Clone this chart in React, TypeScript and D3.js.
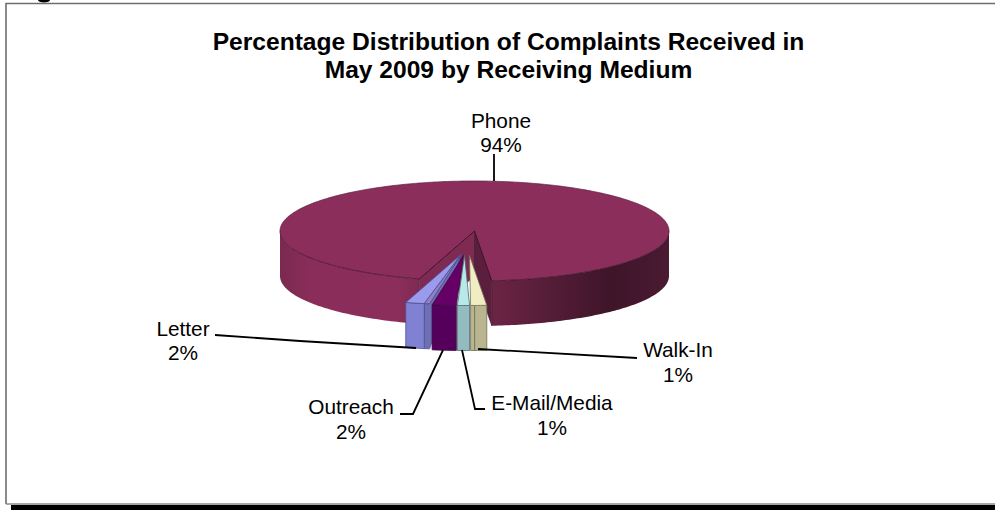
import React from "react";
import * as d3 from "d3";

// Complaints received by medium, May 2009 (percent)
const categories = ["Phone", "Walk-In", "E-Mail/Media", "Outreach", "Letter"];
const shares = [94, 1, 1, 2, 2];
const titleLines = [
  "Percentage Distribution of Complaints Received in",
  "May 2009 by Receiving Medium",
];

const WIDTH = 995;
const HEIGHT = 510;
const FONT = "'Liberation Sans', Arial, sans-serif";
const deg = Math.PI / 180;

// Tilted-disc projection of the pie
const CENTER_X = 474.5;
const CENTER_Y = 231;
const RX = 194.5;
const RY = 50;
const DEPTH = 45;

type Pt = [number, number];

const project = (cx: number, cy: number, a: number, rx = RX): Pt => [
  cx + rx * Math.sin(a),
  cy - RY * Math.cos(a),
];
const arcPoints = (cx: number, cy: number, a0: number, a1: number): Pt[] => {
  const n = Math.max(2, Math.ceil(Math.abs(a1 - a0) / (1 * deg)));
  return d3.range(n + 1).map((i) => project(cx, cy, a0 + ((a1 - a0) * i) / n));
};
const line = d3.line<Pt>();
const closed = (pts: Pt[]) => line(pts) + "Z";
const drop = (pts: Pt[], d = DEPTH): Pt[] => pts.map(([x, y]) => [x, y + d] as Pt);

const slices = d3
  .pie<number>()
  .sort(null)
  .startAngle(196.5 * deg)
  .endAngle((196.5 + 360) * deg)(shares);

// Appearance of the pulled-out slices, by category
const wedgeStyle: Record<string, any> = {
  "Walk-In": { apexX: 469.5, apexY: 255.5, top: "#f1edc2", front: "#b9b68f", wall: "#a3a07c", edge: "#6f6e58", bevel: 0, leftWall: 4 },
  "E-Mail/Media": { apexX: 464.5, apexY: 255.5, top: "#b8e9e8", front: "#93bcc1", wall: "#7fa6ab", edge: "#4f6a70", bevel: 0, leftWall: 0 },
  Outreach: { apexX: 463.5, apexY: 255.5, top: "#660066", front: "#55005b", wall: "#4a0050", edge: "#3c0a44", bevel: 0, leftWall: 0 },
  Letter: { apexX: 461, apexY: 254.5, top: "#9b9bee", front: "#8081d2", wall: "#6d70b4", edge: "#4d5090", bevel: 0.22, leftWall: 0 },
};

// Callout placement: text centre, two baselines and the leader's path
const calloutLayout: Record<string, { x: number; y1: number; y2: number; leader: Pt[] }> = {
  Phone: { x: 501, y1: 128, y2: 152, leader: [[494, 154], [494, 181]] },
  Letter: { x: 183, y1: 336, y2: 360, leader: [[215, 335], [300, 341], [416, 348]] },
  Outreach: { x: 351, y1: 414, y2: 439, leader: [[400, 414], [413, 414], [443, 350]] },
  "E-Mail/Media": { x: 552, y1: 410, y2: 435, leader: [[485, 409], [475, 409], [462, 350]] },
  "Walk-In": { x: 678, y1: 357, y2: 382, leader: [[637, 358], [478, 349]] },
};

function Phone({ a0, a1 }: { a0: number; a1: number }) {
  // a0 is the slice's start (left of the gap), a1 its end (right of the gap)
  const topRim = arcPoints(CENTER_X, CENTER_Y, a0, a1);
  const apex: Pt = [CENTER_X, CENTER_Y];
  const leftSide = arcPoints(CENTER_X, CENTER_Y, a0, 270 * deg);
  const rightSide = arcPoints(CENTER_X, CENTER_Y, 90 * deg + 2 * Math.PI, a1);
  const leftEnd = topRim[0];
  const rightEnd = topRim[topRim.length - 1];
  return (
    <g>
      <path d={closed([...leftSide, ...drop(leftSide).reverse()])} fill="url(#sideShade)" />
      <path d={closed([...rightSide, ...drop(rightSide).reverse()])} fill="url(#sideShade)" />
      <path d={closed([apex, leftEnd, ...drop([leftEnd, apex])])} fill="#7f2a53" stroke="#5a1c3c" strokeWidth={0.6} />
      <path d={closed([apex, rightEnd, ...drop([rightEnd, apex])])} fill="#5b1f3d" stroke="#3d1428" strokeWidth={0.6} />
      <path d={closed([apex, ...topRim])} fill="#8c2e5c" />
      <path d={line(arcPoints(CENTER_X, CENTER_Y, 90 * deg + 2 * Math.PI, a1))!} fill="none" stroke="#3a1226" strokeWidth={0.8} />
      <path d={line(arcPoints(CENTER_X, CENTER_Y, a0, 270 * deg))!} fill="none" stroke="#3a1226" strokeWidth={0.8} />
      <path d={line(arcPoints(CENTER_X, CENTER_Y, 270 * deg, 450 * deg))!} fill="none" stroke="#5c2040" strokeWidth={0.7} />
      <path d={line([leftEnd, apex, rightEnd])!} fill="none" stroke="#3a1226" strokeWidth={1} />
    </g>
  );
}

function Wedge({ name, a0, a1 }: { name: string; a0: number; a1: number }) {
  const s = wedgeStyle[name];
  const apex: Pt = [s.apexX, s.apexY];
  // a0 is the slice's right end on screen, a1 its left end; the bevel is taken off the right
  const split = a1 - (a1 - a0) * (1 - s.bevel);
  const rimAll = arcPoints(s.apexX, s.apexY, a0, a1);
  const rimTop = arcPoints(s.apexX, s.apexY, split, a1);
  const rimWall = arcPoints(s.apexX, s.apexY, a0, split);
  const outline = { stroke: s.edge, strokeWidth: 0.8, strokeLinejoin: "round" as const };
  const near = rimAll[rimAll.length - 1];
  const lip: Pt = [near[0] - s.leftWall, near[1]];
  return (
    <g>
      {s.bevel > 0 && (
        <path d={closed([apex, ...rimWall, ...drop(rimWall).reverse()])} fill={s.wall} {...outline} />
      )}
      <path d={closed([...rimTop, ...drop(rimTop).reverse()])} fill={s.front} {...outline} />
      {s.leftWall > 0 && (
        <path d={closed([near, lip, ...drop([lip, near])])} fill={s.front} {...outline} />
      )}
      <path d={closed([apex, ...rimTop, ...(s.leftWall > 0 ? [lip] : [])])} fill={s.top} {...outline} />
      {s.bevel > 0 && <path d={closed([apex, ...rimWall])} fill={s.top} fillOpacity={0.75} {...outline} />}
    </g>
  );
}

export default function App() {
  const phone = slices[0];
  // Left-most slice is drawn first so its neighbours overlap it
  const wedges = slices.slice(1).reverse();
  return (
    <svg
      width={WIDTH}
      height={HEIGHT}
      viewBox={`0 0 ${WIDTH} ${HEIGHT}`}
      style={{ position: "absolute", left: 0, top: 0, background: "#fff" }}
    >
      <defs>
        <linearGradient id="sideShade" gradientUnits="userSpaceOnUse" x1={CENTER_X - RX} x2={CENTER_X + RX} y1={0} y2={0}>
          <stop offset="0" stopColor="#7a2950" />
          <stop offset="0.08" stopColor="#8a2d5a" />
          <stop offset="0.3" stopColor="#8c2e5b" />
          <stop offset="0.36" stopColor="#7f2a53" />
          <stop offset="0.55" stopColor="#6a2444" />
          <stop offset="0.85" stopColor="#3e1529" />
          <stop offset="1" stopColor="#4b1a33" />
        </linearGradient>
      </defs>

      {/* Sliver of dark ink along the top edge */}
      <ellipse cx={44} cy={0} rx={6} ry={2.5} fill="#000" />

      {/* Chart frame and the dark band below it */}
      <rect x={11} y={505} width={WIDTH - 11} height={5} fill="#000" />
      <path d={`M6,504V3.5H${WIDTH}`} fill="none" stroke="#6e6e6e" strokeWidth={1.6} />
      <path d={`M6,504H${WIDTH}`} fill="none" stroke="#8a8a8a" strokeWidth={1.4} />

      {titleLines.map((t, i) => (
        <text key={t} x={508.5} y={50 + i * 28} textAnchor="middle" fontFamily={FONT} fontSize={24.6} fontWeight="bold" fill="#000">
          {t}
        </text>
      ))}

      <Phone a0={phone.startAngle} a1={phone.endAngle} />
      {wedges.map((d) => (
        <Wedge key={categories[d.index]} name={categories[d.index]} a0={d.startAngle - 2 * Math.PI} a1={d.endAngle - 2 * Math.PI} />
      ))}

      {categories.map((name, i) => {
        const c = calloutLayout[name];
        return (
          <g key={name}>
            <path d={line(c.leader)!} fill="none" stroke="#000" strokeWidth={1.8} />
            <text x={c.x} y={c.y1} textAnchor="middle" fontFamily={FONT} fontSize={20.8} fill="#000">{name}</text>
            <text x={c.x} y={c.y2} textAnchor="middle" fontFamily={FONT} fontSize={20.8} fill="#000">{shares[i]}%</text>
          </g>
        );
      })}
    </svg>
  );
}
